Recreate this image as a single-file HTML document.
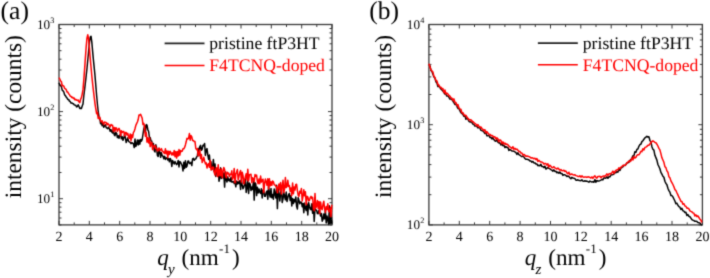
<!DOCTYPE html>
<html><head><meta charset="utf-8"><style>
html,body{margin:0;padding:0;background:#fff;width:710px;height:278px;overflow:hidden;position:relative}
text{text-rendering:geometricPrecision}
</style></head><body>
<svg width="710" height="278" viewBox="0 0 710 278" style="position:absolute;left:0;top:0;will-change:transform">
<defs><filter id="bl" x="-2%" y="-2%" width="104%" height="104%"><feConvolveMatrix order="3" kernelMatrix="0.025 0.1 0.025 0.1 0.5 0.1 0.025 0.1 0.025" edgeMode="none"/></filter></defs><g filter="url(#bl)">
<rect x="59.0" y="24.5" width="273.0" height="200.4" fill="none" stroke="#3a3a3a" stroke-width="1.3"/>
<path d="M59,224.9v-4M59,24.5v4" stroke="#3a3a3a" stroke-width="1"/>
<path d="M74.2,224.9v-2.5M74.2,24.5v2.5" stroke="#3a3a3a" stroke-width="1"/>
<path d="M89.3,224.9v-4M89.3,24.5v4" stroke="#3a3a3a" stroke-width="1"/>
<path d="M104.5,224.9v-2.5M104.5,24.5v2.5" stroke="#3a3a3a" stroke-width="1"/>
<path d="M119.7,224.9v-4M119.7,24.5v4" stroke="#3a3a3a" stroke-width="1"/>
<path d="M134.8,224.9v-2.5M134.8,24.5v2.5" stroke="#3a3a3a" stroke-width="1"/>
<path d="M150,224.9v-4M150,24.5v4" stroke="#3a3a3a" stroke-width="1"/>
<path d="M165.2,224.9v-2.5M165.2,24.5v2.5" stroke="#3a3a3a" stroke-width="1"/>
<path d="M180.3,224.9v-4M180.3,24.5v4" stroke="#3a3a3a" stroke-width="1"/>
<path d="M195.5,224.9v-2.5M195.5,24.5v2.5" stroke="#3a3a3a" stroke-width="1"/>
<path d="M210.7,224.9v-4M210.7,24.5v4" stroke="#3a3a3a" stroke-width="1"/>
<path d="M225.8,224.9v-2.5M225.8,24.5v2.5" stroke="#3a3a3a" stroke-width="1"/>
<path d="M241,224.9v-4M241,24.5v4" stroke="#3a3a3a" stroke-width="1"/>
<path d="M256.2,224.9v-2.5M256.2,24.5v2.5" stroke="#3a3a3a" stroke-width="1"/>
<path d="M271.3,224.9v-4M271.3,24.5v4" stroke="#3a3a3a" stroke-width="1"/>
<path d="M286.5,224.9v-2.5M286.5,24.5v2.5" stroke="#3a3a3a" stroke-width="1"/>
<path d="M301.7,224.9v-4M301.7,24.5v4" stroke="#3a3a3a" stroke-width="1"/>
<path d="M316.8,224.9v-2.5M316.8,24.5v2.5" stroke="#3a3a3a" stroke-width="1"/>
<path d="M332,224.9v-4M332,24.5v4" stroke="#3a3a3a" stroke-width="1"/>
<path d="M59.0,224.9h2.5M332.0,224.9h-2.5M59.0,218h2.5M332.0,218h-2.5M59.0,212.2h2.5M332.0,212.2h-2.5M59.0,207.1h2.5M332.0,207.1h-2.5M59.0,202.7h2.5M332.0,202.7h-2.5M59.0,198.7h4M332.0,198.7h-4M59.0,172.5h2.5M332.0,172.5h-2.5M59.0,157.1h2.5M332.0,157.1h-2.5M59.0,146.2h2.5M332.0,146.2h-2.5M59.0,137.8h2.5M332.0,137.8h-2.5M59.0,130.9h2.5M332.0,130.9h-2.5M59.0,125.1h2.5M332.0,125.1h-2.5M59.0,120h2.5M332.0,120h-2.5M59.0,115.6h2.5M332.0,115.6h-2.5M59.0,111.6h4M332.0,111.6h-4M59.0,85.4h2.5M332.0,85.4h-2.5M59.0,70h2.5M332.0,70h-2.5M59.0,59.2h2.5M332.0,59.2h-2.5M59.0,50.7h2.5M332.0,50.7h-2.5M59.0,43.8h2.5M332.0,43.8h-2.5M59.0,38h2.5M332.0,38h-2.5M59.0,32.9h2.5M332.0,32.9h-2.5M59.0,28.5h2.5M332.0,28.5h-2.5M59.0,24.5h4M332.0,24.5h-4" stroke="#3a3a3a" stroke-width="1"/>
<rect x="428.9" y="24.5" width="273.5" height="200.4" fill="none" stroke="#3a3a3a" stroke-width="1.3"/>
<path d="M428.9,224.9v-4M428.9,24.5v4" stroke="#3a3a3a" stroke-width="1"/>
<path d="M444.1,224.9v-2.5M444.1,24.5v2.5" stroke="#3a3a3a" stroke-width="1"/>
<path d="M459.3,224.9v-4M459.3,24.5v4" stroke="#3a3a3a" stroke-width="1"/>
<path d="M474.5,224.9v-2.5M474.5,24.5v2.5" stroke="#3a3a3a" stroke-width="1"/>
<path d="M489.7,224.9v-4M489.7,24.5v4" stroke="#3a3a3a" stroke-width="1"/>
<path d="M504.9,224.9v-2.5M504.9,24.5v2.5" stroke="#3a3a3a" stroke-width="1"/>
<path d="M520.1,224.9v-4M520.1,24.5v4" stroke="#3a3a3a" stroke-width="1"/>
<path d="M535.3,224.9v-2.5M535.3,24.5v2.5" stroke="#3a3a3a" stroke-width="1"/>
<path d="M550.5,224.9v-4M550.5,24.5v4" stroke="#3a3a3a" stroke-width="1"/>
<path d="M565.6,224.9v-2.5M565.6,24.5v2.5" stroke="#3a3a3a" stroke-width="1"/>
<path d="M580.8,224.9v-4M580.8,24.5v4" stroke="#3a3a3a" stroke-width="1"/>
<path d="M596,224.9v-2.5M596,24.5v2.5" stroke="#3a3a3a" stroke-width="1"/>
<path d="M611.2,224.9v-4M611.2,24.5v4" stroke="#3a3a3a" stroke-width="1"/>
<path d="M626.4,224.9v-2.5M626.4,24.5v2.5" stroke="#3a3a3a" stroke-width="1"/>
<path d="M641.6,224.9v-4M641.6,24.5v4" stroke="#3a3a3a" stroke-width="1"/>
<path d="M656.8,224.9v-2.5M656.8,24.5v2.5" stroke="#3a3a3a" stroke-width="1"/>
<path d="M672,224.9v-4M672,24.5v4" stroke="#3a3a3a" stroke-width="1"/>
<path d="M687.2,224.9v-2.5M687.2,24.5v2.5" stroke="#3a3a3a" stroke-width="1"/>
<path d="M702.4,224.9v-4M702.4,24.5v4" stroke="#3a3a3a" stroke-width="1"/>
<path d="M428.9,224.9h4M702.4,224.9h-4M428.9,194.7h2.5M702.4,194.7h-2.5M428.9,177.1h2.5M702.4,177.1h-2.5M428.9,164.6h2.5M702.4,164.6h-2.5M428.9,154.9h2.5M702.4,154.9h-2.5M428.9,146.9h2.5M702.4,146.9h-2.5M428.9,140.2h2.5M702.4,140.2h-2.5M428.9,134.4h2.5M702.4,134.4h-2.5M428.9,129.3h2.5M702.4,129.3h-2.5M428.9,124.7h4M702.4,124.7h-4M428.9,94.5h2.5M702.4,94.5h-2.5M428.9,76.9h2.5M702.4,76.9h-2.5M428.9,64.4h2.5M702.4,64.4h-2.5M428.9,54.7h2.5M702.4,54.7h-2.5M428.9,46.7h2.5M702.4,46.7h-2.5M428.9,40h2.5M702.4,40h-2.5M428.9,34.2h2.5M702.4,34.2h-2.5M428.9,29.1h2.5M702.4,29.1h-2.5M428.9,24.5h4M702.4,24.5h-4" stroke="#3a3a3a" stroke-width="1"/>
<path d="M59,82.8 59.8,84.7 60.6,85.8 61.4,86.4 62.2,90.2 63,90.8 63.8,91.9 64.6,94.7 65.4,95.7 66.2,97 67,98 67.8,99.5 68.6,99.4 69.4,101.1 70.2,101.5 71,103.1 71.8,103 72.6,103.5 73.4,103.7 74.2,104.8 75,105.2 75.8,105.3 76.6,106.9 77.4,106.5 78.2,104.8 79,106.5 79.8,108.5 80.6,108.2 81.4,108.5 82.2,106 83,104 83.8,95.5 84.6,89.4 85.4,82.4 86.2,75.3 87,68 87.8,59.9 88.6,51.5 89.4,43 90.2,37 91,36.2 91.8,42 92.6,51.1 93.4,59.9 94.2,67.7 95,75.8 95.8,85.5 96.6,95.5 97.4,104.2 98.2,112 99,116.5 99.8,118.8 100.6,123.7 101.4,122.5 102.2,125.7 103,122.9 103.8,127.3 104.6,125.4 105.4,124.8 106.2,127.6 107,128.1 107.8,128.8 108.6,127.1 109.4,128.4 110.2,131.3 111,129.6 111.8,132 112.6,132.9 113.4,128.5 114.2,134.8 115,135.6 115.8,132.3 116.6,133.2 117.4,137.6 118.2,135.7 119,138.2 119.8,135.2 120.6,134.2 121.4,138.8 122.2,136.8 123,140.3 123.8,137.9 124.6,134.5 125.4,137.8 126.2,142.6 127,140.3 127.8,137.8 128.6,141.2 129.4,142.1 130.2,142.2 131,143.7 131.8,142.6 132.6,143.2 133.4,143.8 134.2,147.6 135,139.1 135.8,146.5 136.6,144.3 137.4,139.9 138.2,145 139,140.1 139.8,144.2 140.6,139.4 141.4,141.1 142.2,139.4 143,134.3 143.8,128.9 144.6,125.6 145.4,133 146.2,124.6 147,125.1 147.8,129.5 148.6,131.5 149.4,137.5 150.2,137.6 151,141 151.8,141.3 152.6,146.8 153.4,143.5 154.2,150.6 155,152 155.8,144.8 156.6,147.8 157.4,155.3 158.2,156.5 159,148.6 159.8,151.9 160.6,157.3 161.4,152.6 162.2,155.6 163,156.2 163.8,158.8 164.6,156.2 165.4,159.4 166.2,158.1 167,157.5 167.8,160 168.6,158.4 169.4,161.7 170.2,158.4 171,160.1 171.8,166.5 172.6,160.5 173.4,162.4 174.2,164 175,161.5 175.8,163.1 176.6,164.6 177.4,163.7 178.2,160.5 179,167 179.8,161.6 180.6,162.4 181.4,164 182.2,165.9 183,171 183.8,162.2 184.6,168.5 185.4,160.8 186.2,167.2 187,166.1 187.8,161.3 188.6,161.1 189.4,163.5 190.2,163.4 191,162.4 191.8,165.6 192.6,158.8 193.4,158.4 194.2,160.2 195,159.2 195.8,158.9 196.6,157.1 197.4,155.9 198.2,148.3 199,155.8 199.8,146.6 200.6,145.3 201.4,150.3 202.2,149 203,145.2 203.8,145.6 204.6,143.5 205.4,155.4 206.2,150.5 207,148.6 207.8,154.9 208.6,159.4 209.4,155 210.2,164.7 211,161.8 211.8,169.7 212.6,167.7 213.4,159.4 214.2,171.6 215,163.9 215.8,176.5 216.6,170 217.4,173.5 218.2,168 219,181.2 219.8,178 220.6,167.7 221.4,178.4 222.2,173.2 223,177.9 223.8,173.1 224.6,187.1 225.4,172.1 226.2,179.7 227,182 227.8,176.8 228.6,180.6 229.4,179.1 230.2,181.6 231,177.2 231.8,182.1 232.6,182 233.4,181.4 234.2,183.5 235,181.8 235.8,186.8 236.6,181 237.4,184 238.2,181.8 239,183.6 239.8,180.6 240.6,189.5 241.4,179.7 242.2,184.7 243,188.8 243.8,187.1 244.6,183.9 245.4,178.9 246.2,192.4 247,187.3 247.8,180.7 248.6,193.4 249.4,183 250.2,184.2 251,190.5 251.8,187.1 252.6,189.5 253.4,181 254.2,200.1 255,182.6 255.8,183.6 256.6,195.6 257.4,187.3 258.2,192.9 259,188.9 259.8,192.1 260.6,193.5 261.4,188.7 262.2,197.9 263,190 263.8,190.8 264.6,196.3 265.4,196.2 266.2,192.4 267,191 267.8,199.2 268.6,185.2 269.4,193.6 270.2,197.1 271,188.4 271.8,197.8 272.6,194.6 273.4,199.2 274.2,188.9 275,194 275.8,197.9 276.6,185.2 277.4,208.6 278.2,187.9 279,193.4 279.8,201 280.6,193.6 281.4,187.6 282.2,202.5 283,198.8 283.8,192.5 284.6,196.3 285.4,199.8 286.2,192 287,201.5 287.8,197.9 288.6,194.6 289.4,193.4 290.2,200.6 291,195.5 291.8,205.9 292.6,198.4 293.4,203.5 294.2,199.5 295,201.8 295.8,197.1 296.6,206.4 297.4,209 298.2,197.4 299,200.8 299.8,203.8 300.6,201.9 301.4,201.9 302.2,206.7 303,203.4 303.8,212.7 304.6,202.9 305.4,207.9 306.2,210.5 307,203.9 307.8,215 308.6,202.3 309.4,206.2 310.2,209.1 311,209.8 311.8,203.8 312.6,213.3 313.4,203.4 314.2,221.5 315,208.8 315.8,209.8 316.6,210.2 317.4,213.6 318.2,213.7 319,210 319.8,212.6 320.6,216.1 321.4,213.4 322.2,221.2 323,219.4 323.8,214.1 324.6,218.8 325.4,209.8 326.2,223 327,216 327.8,220.1 328.6,224.4 329.4,205.7 330.2,223.8 331,213 331.8,223.9" fill="none" stroke="#000" stroke-width="1.5" stroke-linejoin="round"/>
<path d="M59,77.6 59.8,79 60.6,81 61.4,81.6 62.2,85.8 63,85.6 63.8,86.1 64.6,88.3 65.4,88.8 66.2,89.6 67,92 67.8,92.1 68.6,93.7 69.4,94.5 70.2,96.3 71,96.3 71.8,97.5 72.6,97.2 73.4,98.5 74.2,98.1 75,99.9 75.8,99.4 76.6,100.1 77.4,100.5 78.2,100 79,102 79.8,102.6 80.6,99.3 81.4,97.6 82.2,94.1 83,89.4 83.8,79.9 84.6,69.1 85.4,57.5 86.2,46.7 87,37.9 87.8,34.8 88.6,39.3 89.4,48 90.2,57.9 91,66.7 91.8,75.8 92.6,83.4 93.4,90.6 94.2,97.2 95,103.8 95.8,108.8 96.6,113.7 97.4,112.7 98.2,118.4 99,118.5 99.8,117.2 100.6,120.7 101.4,121.9 102.2,120.8 103,122.9 103.8,124.1 104.6,121.9 105.4,122.5 106.2,122.4 107,124.9 107.8,123.4 108.6,124.6 109.4,125.3 110.2,126.9 111,124.4 111.8,125.3 112.6,125.3 113.4,131.1 114.2,127.4 115,131.1 115.8,127.8 116.6,128.1 117.4,131.2 118.2,129.6 119,128.3 119.8,130.3 120.6,135.5 121.4,130.8 122.2,132.5 123,131.4 123.8,131.6 124.6,135.5 125.4,132.5 126.2,132.6 127,135 127.8,133.4 128.6,136.9 129.4,138.3 130.2,133.9 131,140.7 131.8,134.8 132.6,137.6 133.4,132.5 134.2,131.4 135,128.7 135.8,125.5 136.6,123.6 137.4,122 138.2,119.6 139,115 139.8,115.1 140.6,114.2 141.4,116.2 142.2,118.3 143,124.6 143.8,123.4 144.6,127.2 145.4,136.3 146.2,132.5 147,142.1 147.8,137.7 148.6,143 149.4,138 150.2,146.6 151,142.7 151.8,142.8 152.6,149.6 153.4,146 154.2,146.1 155,145.8 155.8,148.5 156.6,148.2 157.4,150.7 158.2,150.6 159,148 159.8,149.9 160.6,150.1 161.4,148.6 162.2,151 163,151.4 163.8,152.7 164.6,153.4 165.4,148.8 166.2,153.8 167,150.9 167.8,157.1 168.6,151.2 169.4,154.4 170.2,151.2 171,152.9 171.8,154.9 172.6,152.9 173.4,155 174.2,150.5 175,156.7 175.8,151.6 176.6,158.1 177.4,151.6 178.2,156 179,149.6 179.8,155.2 180.6,150.5 181.4,151.6 182.2,151.2 183,148.8 183.8,148.8 184.6,147.4 185.4,144.9 186.2,141.8 187,138.2 187.8,138.9 188.6,138.3 189.4,133.5 190.2,140.2 191,135.5 191.8,136.9 192.6,140.6 193.4,140.5 194.2,141.5 195,141.6 195.8,148.3 196.6,149.6 197.4,148.8 198.2,155.7 199,153.9 199.8,150.2 200.6,158.6 201.4,154.5 202.2,162.6 203,160.4 203.8,157.3 204.6,160.9 205.4,163.9 206.2,162.8 207,168 207.8,164.7 208.6,163.5 209.4,167.3 210.2,160.5 211,169.9 211.8,169.6 212.6,167.1 213.4,167.7 214.2,172.3 215,175 215.8,169 216.6,167.9 217.4,176.6 218.2,164.7 219,175.4 219.8,169.7 220.6,175.4 221.4,168.8 222.2,177.3 223,171.8 223.8,167.5 224.6,169.5 225.4,174.7 226.2,177.4 227,172.1 227.8,173.6 228.6,173 229.4,176.4 230.2,174.2 231,174.5 231.8,170.8 232.6,179.3 233.4,176.9 234.2,168.5 235,182.6 235.8,174.1 236.6,172.2 237.4,169.5 238.2,179.9 239,176 239.8,172.6 240.6,170.5 241.4,182 242.2,172.3 243,175.4 243.8,183.6 244.6,180.1 245.4,176.8 246.2,173.8 247,179.9 247.8,169.2 248.6,180.8 249.4,174.7 250.2,174.4 251,174.3 251.8,182.5 252.6,177.8 253.4,178.9 254.2,181.5 255,174.6 255.8,176.2 256.6,175.1 257.4,181.6 258.2,183.7 259,178.9 259.8,183.7 260.6,176 261.4,182.1 262.2,180.2 263,179.2 263.8,192.3 264.6,183.3 265.4,179.1 266.2,182.1 267,185.2 267.8,178.7 268.6,188.8 269.4,178.8 270.2,185.8 271,181.8 271.8,185.3 272.6,181.1 273.4,181.8 274.2,184.8 275,185 275.8,186.2 276.6,187 277.4,192.3 278.2,186.9 279,184 279.8,189.9 280.6,182.5 281.4,193.7 282.2,186.3 283,180.3 283.8,192.3 284.6,188.8 285.4,177.5 286.2,187.6 287,186.5 287.8,180.3 288.6,186.5 289.4,185.5 290.2,191.3 291,188 291.8,195.4 292.6,183 293.4,193.8 294.2,187 295,190.1 295.8,184.4 296.6,184.3 297.4,190.7 298.2,195.2 299,196.2 299.8,191.2 300.6,193.1 301.4,188.4 302.2,200.8 303,196.3 303.8,189.8 304.6,195.8 305.4,191.8 306.2,204.2 307,196.3 307.8,196.9 308.6,200.5 309.4,200.5 310.2,197.6 311,196.4 311.8,198.4 312.6,197.3 313.4,207.5 314.2,210.3 315,193.4 315.8,207.9 316.6,206.2 317.4,200.6 318.2,208.3 319,201.4 319.8,213.2 320.6,202.1 321.4,208.4 322.2,209.7 323,204.5 323.8,201.2 324.6,208.9 325.4,212.1 326.2,206.5 327,209.5 327.8,203.8 328.6,211.2 329.4,211.5 330.2,207.7 331,216.5 331.8,204.7" fill="none" stroke="#ff0000" stroke-width="1.5" stroke-linejoin="round"/>
<path d="M428.9,66.2 429.9,65.5 430.9,70.5 431.9,71.6 432.9,74.3 433.9,76.9 434.9,78 435.9,81.8 436.9,83 437.9,86.6 438.9,86.2 439.9,87.6 440.9,89 441.9,90 442.9,91 443.9,92.6 444.9,94 445.9,94.3 446.9,96.1 447.9,95.9 448.9,97.2 449.9,99.1 450.9,99 451.9,99.6 452.9,101.2 453.9,102.7 454.9,104.5 455.9,104.1 456.9,106.2 457.9,108.4 458.9,108.4 459.9,110.7 460.9,112.6 461.9,113.5 462.9,114.5 463.9,116.3 464.9,115.6 465.9,119.2 466.9,118.1 467.9,119.1 468.9,121.3 469.9,121.9 470.9,121.8 471.9,122.5 472.9,124 473.9,124.4 474.9,126 475.9,125.9 476.9,126.5 477.9,127.9 478.9,127.5 479.9,128.2 480.9,130.2 481.9,130.6 482.9,131 483.9,131.8 484.9,133.5 485.9,132.7 486.9,135.8 487.9,135.7 488.9,135.2 489.9,137.5 490.9,137.1 491.9,139 492.9,137.5 493.9,139.5 494.9,140.8 495.9,141.2 496.9,139.7 497.9,142.2 498.9,142.9 499.9,142.7 500.9,145 501.9,143.3 502.9,145.7 503.9,145 504.9,147.6 505.9,146.6 506.9,147.4 507.9,147.3 508.9,150.4 509.9,149.4 510.9,150.2 511.9,151 512.9,151 513.9,151.2 514.9,151.9 515.9,152.5 516.9,154.5 517.9,152.7 518.9,154.6 519.9,155.2 520.9,156 521.9,156.7 522.9,156 523.9,156.8 524.9,158.5 525.9,159.3 526.9,159.2 527.9,159.5 528.9,159.9 529.9,160.9 530.9,160.9 531.9,162.2 532.9,161.4 533.9,162.9 534.9,162.9 535.9,163.9 536.9,164 537.9,165.7 538.9,165.3 539.9,165.9 540.9,164.2 541.9,166.6 542.9,166.4 543.9,167.6 544.9,166.1 545.9,169.1 546.9,168.4 547.9,167.3 548.9,168.4 549.9,168.7 550.9,169.6 551.9,170.1 552.9,171.1 553.9,169.8 554.9,171.4 555.9,171.2 556.9,172.8 557.9,172.1 558.9,173.2 559.9,171.9 560.9,173.6 561.9,173.4 562.9,175.4 563.9,174.7 564.9,174.8 565.9,175.4 566.9,176.5 567.9,175.9 568.9,176.5 569.9,177.8 570.9,178.7 571.9,177.3 572.9,178.1 573.9,178.2 574.9,178.6 575.9,180.2 576.9,180.2 577.9,179.8 578.9,180.5 579.9,180.5 580.9,180.7 581.9,179.8 582.9,181.1 583.9,181.3 584.9,180.7 585.9,181.3 586.9,181.1 587.9,181.6 588.9,182.2 589.9,181.1 590.9,181.6 591.9,182.1 592.9,181.6 593.9,182.3 594.9,179.5 595.9,182.2 596.9,180.5 597.9,181.1 598.9,181 599.9,180.6 600.9,180.1 601.9,179.2 602.9,179.9 603.9,177.8 604.9,178 605.9,178.2 606.9,176.7 607.9,178.3 608.9,176.5 609.9,176.9 610.9,174.9 611.9,174.7 612.9,174.5 613.9,174.1 614.9,172.5 615.9,172.8 616.9,171.6 617.9,172.1 618.9,169.5 619.9,170.4 620.9,168.1 621.9,167.5 622.9,166.8 623.9,165.4 624.9,165.5 625.9,164.7 626.9,163 627.9,162.7 628.9,162.4 629.9,160.4 630.9,159.7 631.9,158.1 632.9,155.8 633.9,155.9 634.9,151.8 635.9,152.3 636.9,149.5 637.9,148.9 638.9,146.3 639.9,144.7 640.9,144.1 641.9,141.6 642.9,140.7 643.9,139.3 644.9,137.9 645.9,137.1 646.9,136.2 647.9,137.1 648.9,136.7 649.9,140.3 650.9,142 651.9,146.7 652.9,149.2 653.9,150.1 654.9,155.3 655.9,157.6 656.9,160.1 657.9,164.5 658.9,166.5 659.9,168.8 660.9,172.4 661.9,174.1 662.9,176.2 663.9,177.3 664.9,181.2 665.9,183.4 666.9,184.8 667.9,188.2 668.9,190.6 669.9,192.1 670.9,195.5 671.9,195.6 672.9,196.9 673.9,199 674.9,201 675.9,203.7 676.9,203.2 677.9,205.3 678.9,206.6 679.9,207.2 680.9,209.5 681.9,208.3 682.9,210.8 683.9,211.1 684.9,212.5 685.9,212.2 686.9,215.5 687.9,214.5 688.9,216.3 689.9,216.7 690.9,218.1 691.9,219.7 692.9,220.2 693.9,220.5 694.9,221.3 695.9,221.3 696.9,221.5 697.9,222.6 698.9,222.8 699.9,223 700.9,224.4 701.9,225.2" fill="none" stroke="#000" stroke-width="1.5" stroke-linejoin="round"/>
<path d="M428.9,63.8 429.9,66.5 430.9,69.7 431.9,70.9 432.9,72.1 433.9,76.1 434.9,77.5 435.9,80.3 436.9,80.9 437.9,84.2 438.9,85.1 439.9,87.1 440.9,87.2 441.9,88.8 442.9,88.6 443.9,92.4 444.9,90 445.9,94 446.9,93.1 447.9,94 448.9,95.2 449.9,96.1 450.9,97.7 451.9,98.1 452.9,100.3 453.9,98.9 454.9,102.2 455.9,102.4 456.9,105.2 457.9,104.5 458.9,107.8 459.9,109.1 460.9,109.2 461.9,112.6 462.9,112.7 463.9,114.6 464.9,115.5 465.9,115.3 466.9,116.9 467.9,118.2 468.9,119.4 469.9,120 470.9,119.8 471.9,121 472.9,121.6 473.9,122.5 474.9,123.3 475.9,124 476.9,126 477.9,124.6 478.9,126.2 479.9,127.3 480.9,126.9 481.9,128.5 482.9,129.3 483.9,130.4 484.9,129.7 485.9,132.7 486.9,131.6 487.9,133.1 488.9,134.1 489.9,134.4 490.9,135.4 491.9,135.4 492.9,136.1 493.9,137 494.9,136.7 495.9,139 496.9,137.8 497.9,138.7 498.9,141.5 499.9,139.9 500.9,140.5 501.9,143.3 502.9,141.8 503.9,143.9 504.9,143 505.9,144.5 506.9,144 507.9,144.8 508.9,146 509.9,146.8 510.9,147.5 511.9,148.5 512.9,146.7 513.9,149.3 514.9,148.2 515.9,149.5 516.9,149.1 517.9,150.2 518.9,151.3 519.9,151.5 520.9,153.1 521.9,153 522.9,155 523.9,154.4 524.9,155.2 525.9,156.3 526.9,156 527.9,156.2 528.9,156.6 529.9,157 530.9,158 531.9,157.8 532.9,158 533.9,158.8 534.9,158.2 535.9,159.7 536.9,158.6 537.9,161.4 538.9,160.4 539.9,161.3 540.9,162.1 541.9,162.1 542.9,162.6 543.9,164.1 544.9,163.5 545.9,163.6 546.9,165.1 547.9,163.8 548.9,166.9 549.9,165.2 550.9,166.2 551.9,167.7 552.9,167.5 553.9,166.7 554.9,167.9 555.9,168.4 556.9,169 557.9,168.1 558.9,169.1 559.9,170.1 560.9,169.6 561.9,170.6 562.9,170.8 563.9,170.2 564.9,171.4 565.9,171 566.9,172.9 567.9,173.8 568.9,172.2 569.9,174.7 570.9,174.3 571.9,174 572.9,174.7 573.9,175 574.9,174.7 575.9,175.6 576.9,175.9 577.9,176.4 578.9,176.6 579.9,175.7 580.9,177.2 581.9,175.9 582.9,176.9 583.9,177.2 584.9,176.9 585.9,177 586.9,177.4 587.9,176.8 588.9,177 589.9,177.4 590.9,178 591.9,176.9 592.9,178.4 593.9,176.8 594.9,175.8 595.9,177.3 596.9,178.1 597.9,176.4 598.9,176.4 599.9,176.2 600.9,177.6 601.9,176.6 602.9,176.2 603.9,175.9 604.9,176.3 605.9,175.3 606.9,173.9 607.9,175.3 608.9,174 609.9,173.6 610.9,173.8 611.9,172.7 612.9,171.1 613.9,173.3 614.9,171.4 615.9,170.3 616.9,169.8 617.9,169.6 618.9,167.8 619.9,168.6 620.9,167.2 621.9,166.6 622.9,165.5 623.9,165.1 624.9,165.4 625.9,164.3 626.9,163 627.9,162.1 628.9,161 629.9,161.5 630.9,160.9 631.9,158 632.9,160 633.9,156.7 634.9,158 635.9,157.4 636.9,155.3 637.9,154.7 638.9,154.7 639.9,153.4 640.9,151.2 641.9,151.6 642.9,148.8 643.9,150 644.9,147.4 645.9,147.1 646.9,146.4 647.9,145.2 648.9,145.3 649.9,144.1 650.9,142.4 651.9,141.6 652.9,140.8 653.9,141.5 654.9,142.4 655.9,142.8 656.9,144.2 657.9,146 658.9,148.4 659.9,149.9 660.9,153.6 661.9,157.8 662.9,160 663.9,162.3 664.9,166.7 665.9,167.6 666.9,170.9 667.9,172.2 668.9,176.7 669.9,177.7 670.9,180.9 671.9,182.6 672.9,184.5 673.9,186.8 674.9,189.6 675.9,190.5 676.9,192.8 677.9,194.9 678.9,197.2 679.9,199 680.9,201.4 681.9,201.5 682.9,204.2 683.9,203.7 684.9,206 685.9,206.2 686.9,208.3 687.9,208.1 688.9,208.8 689.9,210.8 690.9,211.4 691.9,211.9 692.9,212.9 693.9,213.2 694.9,215.9 695.9,214.8 696.9,216.6 697.9,215.9 698.9,217.5 699.9,219.2 700.9,220.1 701.9,222.4" fill="none" stroke="#ff0000" stroke-width="1.5" stroke-linejoin="round"/>
<path d="M164.6,43.4H204.5" stroke="#222" stroke-width="1.6"/>
<path d="M164.6,65.5H204.5" stroke="#f00" stroke-width="1.6"/>
<path d="M537.9,43.1H577.8" stroke="#222" stroke-width="1.6"/>
<path d="M537.9,64.8H577.8" stroke="#f00" stroke-width="1.6"/>
<g font-family='"Liberation Serif", serif'>
<text x="209.3" y="49.1" font-size="17.65">pristine ftP3HT</text>
<text x="209.3" y="70.7" font-size="17.65" fill="#f00">F4TCNQ-doped</text>
<text x="582.8" y="49.1" font-size="17.65">pristine ftP3HT</text>
<text x="582.8" y="70.7" font-size="17.65" fill="#f00">F4TCNQ-doped</text>
<text x="59" y="240.6" font-size="14" text-anchor="middle">2</text>
<text x="89.3" y="240.6" font-size="14" text-anchor="middle">4</text>
<text x="119.7" y="240.6" font-size="14" text-anchor="middle">6</text>
<text x="150" y="240.6" font-size="14" text-anchor="middle">8</text>
<text x="180.3" y="240.6" font-size="14" text-anchor="middle">10</text>
<text x="210.7" y="240.6" font-size="14" text-anchor="middle">12</text>
<text x="241" y="240.6" font-size="14" text-anchor="middle">14</text>
<text x="271.3" y="240.6" font-size="14" text-anchor="middle">16</text>
<text x="301.7" y="240.6" font-size="14" text-anchor="middle">18</text>
<text x="332" y="240.6" font-size="14" text-anchor="middle">20</text>
<text x="428.9" y="240.6" font-size="14" text-anchor="middle">2</text>
<text x="459.3" y="240.6" font-size="14" text-anchor="middle">4</text>
<text x="489.7" y="240.6" font-size="14" text-anchor="middle">6</text>
<text x="520.1" y="240.6" font-size="14" text-anchor="middle">8</text>
<text x="550.5" y="240.6" font-size="14" text-anchor="middle">10</text>
<text x="580.8" y="240.6" font-size="14" text-anchor="middle">12</text>
<text x="611.2" y="240.6" font-size="14" text-anchor="middle">14</text>
<text x="641.6" y="240.6" font-size="14" text-anchor="middle">16</text>
<text x="672" y="240.6" font-size="14" text-anchor="middle">18</text>
<text x="702.4" y="240.6" font-size="14" text-anchor="middle">20</text>
<text x="50.1" y="29" font-size="13.2" text-anchor="end">10</text>
<text x="50.3" y="22.5" font-size="8.2">3</text>
<text x="50.1" y="116.1" font-size="13.2" text-anchor="end">10</text>
<text x="50.3" y="109.6" font-size="8.2">2</text>
<text x="50.1" y="203.2" font-size="13.2" text-anchor="end">10</text>
<text x="50.3" y="196.7" font-size="8.2">1</text>
<text x="420" y="29" font-size="13.2" text-anchor="end">10</text>
<text x="420.2" y="22.5" font-size="8.2">4</text>
<text x="420" y="129.2" font-size="13.2" text-anchor="end">10</text>
<text x="420.2" y="122.7" font-size="8.2">3</text>
<text x="420" y="229.4" font-size="13.2" text-anchor="end">10</text>
<text x="420.2" y="222.9" font-size="8.2">2</text>
<text x="0.6" y="19.3" font-size="25.5">(a)</text>
<text x="369.2" y="19" font-size="25.5">(b)</text>
<text transform="translate(21,198.2) rotate(-90)" font-size="23.4">intensity (counts)</text>
<text transform="translate(390.8,198) rotate(-90)" font-size="23.4">intensity (counts)</text>
<text x="157.3" y="265.3" font-size="23.1" font-style="italic">q</text>
<text x="168.10000000000002" y="274.3" font-size="15" font-style="italic">y</text>
<text x="181.6" y="265.3" font-size="23.1">(nm</text>
<text x="219.1" y="253.2" font-size="13">-1</text>
<text x="232.1" y="265.3" font-size="23.1">)</text>
<text x="524.7" y="265.3" font-size="23.1" font-style="italic">q</text>
<text x="535.5" y="274.3" font-size="15" font-style="italic">z</text>
<text x="548.3" y="265.3" font-size="23.1">(nm</text>
<text x="585.8" y="253.2" font-size="13">-1</text>
<text x="598.8" y="265.3" font-size="23.1">)</text>
</g></svg>
</body></html>
